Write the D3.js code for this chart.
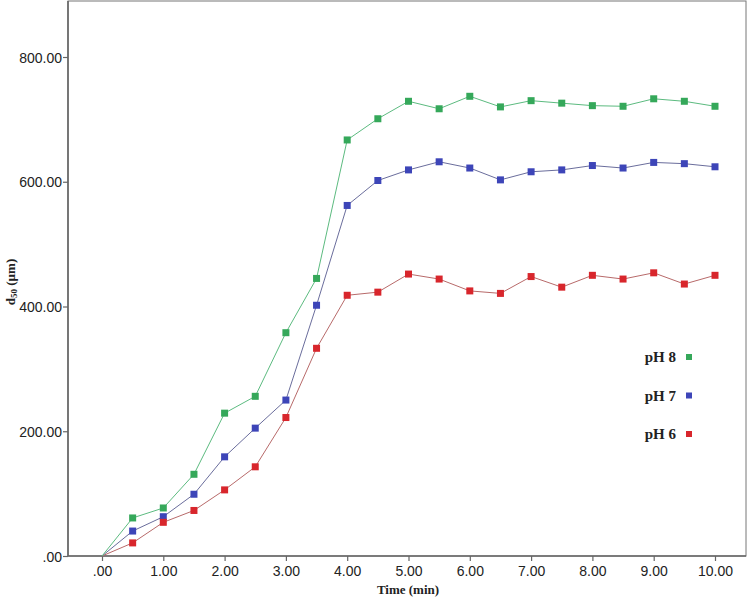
<!DOCTYPE html>
<html><head><meta charset="utf-8">
<script src="https://cdn.jsdelivr.net/npm/d3@7"></script>
<style>body{margin:0;background:#fff}svg{display:block}</style>
</head><body>
<svg id="c" width="749" height="599"></svg>
<script>
const times = [0,0.5,1,1.5,2,2.5,3,3.5,4,4.5,5,5.5,6,6.5,7,7.5,8,8.5,9,9.5,10];
const ph8 = [0,61,77,131,229,256,358,445,667,701,729,717,737,720,730,726,722,721,733,729,721];
const ph7 = [0,40,63,99,159,205,250,402,562,602,619,632,622,603,616,619,626,622,631,629,624];
const ph6 = [0,21,54,73,106,143,222,333,418,423,452,444,425,421,448,431,450,444,454,436,450];
const xTicks = [0,1,2,3,4,5,6,7,8,9,10];
const yTicks = [0,200,400,600,800];
const seriesNames = ["pH 8","pH 7","pH 6"];

const svg = d3.select("#c");
const L=68, R=746, T=1, B=556;
const x = d3.scaleLinear().domain([0,10]).range([102,715]);
const y = d3.scaleLinear().domain([0,800]).range([B,57]);
const fmt = v => { const s = d3.format(".2f")(v); return s.startsWith("0") ? s.slice(1) : s; };

const series = [
  {name:seriesNames[0], vals:ph8, mark:"#35a85a", line:"#5cbb80"},
  {name:seriesNames[1], vals:ph7, mark:"#3d45b8", line:"#6a6d9c"},
  {name:seriesNames[2], vals:ph6, mark:"#d8262c", line:"#b86a6a"}
];

// frame
svg.append("rect").attr("x",L).attr("y",T).attr("width",R-L).attr("height",B-T)
  .attr("fill","none").attr("stroke","#777").attr("stroke-width",1);

const axCol="#666";
const gx = svg.append("g").attr("transform",`translate(0,${B})`)
  .call(d3.axisBottom(x).tickValues(xTicks).tickFormat(fmt).tickSize(5).tickSizeOuter(0));
const gy = svg.append("g").attr("transform",`translate(${L},0)`)
  .call(d3.axisLeft(y).tickValues(yTicks).tickFormat(fmt).tickSize(5).tickSizeOuter(0));
[gx,gy].forEach(g=>{
  g.attr("font-family","Liberation Sans, Arial, sans-serif").attr("font-size",14);
  g.select(".domain").remove();
  g.selectAll("line").attr("stroke",axCol).attr("stroke-width",1.2);
  g.selectAll("text").attr("fill","#222");
});
gx.selectAll("text").attr("y",10).attr("dy","0.71em");
gy.selectAll("text").attr("dy","0.36em").attr("x",-6);
svg.append("line").attr("x1",L).attr("x2",R).attr("y1",B).attr("y2",B).attr("stroke",axCol).attr("stroke-width",1.6);
svg.append("line").attr("x1",L).attr("x2",L).attr("y1",T).attr("y2",B).attr("stroke",axCol).attr("stroke-width",1.6);

// axis titles
svg.append("text").attr("x",408).attr("y",594).attr("text-anchor","middle")
  .attr("font-family","Liberation Serif, Times New Roman, serif").attr("font-weight","bold").attr("font-size",13)
  .attr("fill","#222").text("Time (min)");
const yl = svg.append("text").attr("transform","translate(15,282) rotate(-90)").attr("text-anchor","middle")
  .attr("font-family","Liberation Serif, Times New Roman, serif").attr("font-weight","bold").attr("font-size",13).attr("fill","#222");
yl.append("tspan").text("d");
yl.append("tspan").attr("font-size",9).attr("dy",2).text("50");
yl.append("tspan").attr("dy",-2).text(" (µm)");

// lines and markers
const lineGen = d3.line().x((d,i)=>x(times[i])).y(d=>y(d));
series.slice().reverse().forEach(s=>{
  svg.append("path").datum(s.vals).attr("d",lineGen).attr("fill","none").attr("stroke",s.line).attr("stroke-width",1);
});
series.forEach(s=>{
  svg.selectAll(null).data(s.vals.map((v,i)=>({t:times[i],v})).filter(d=>d.t>0)).enter().append("rect")
    .attr("x",d=>x(d.t)-3.5).attr("y",d=>y(d.v)-3.5).attr("width",7).attr("height",7).attr("fill",s.mark);
});

// legend
const leg = svg.append("g");
series.forEach((s,i)=>{
  const ly = 357 + i*38.5;
  leg.append("text").attr("x",676).attr("y",ly).attr("dy","0.35em").attr("text-anchor","end")
    .attr("font-family","Liberation Serif, Times New Roman, serif").attr("font-weight","bold").attr("font-size",15)
    .attr("fill","#222").text(s.name);
  leg.append("rect").attr("x",686).attr("y",ly-3).attr("width",6).attr("height",6).attr("fill",s.mark);
});
</script>
</body></html>
